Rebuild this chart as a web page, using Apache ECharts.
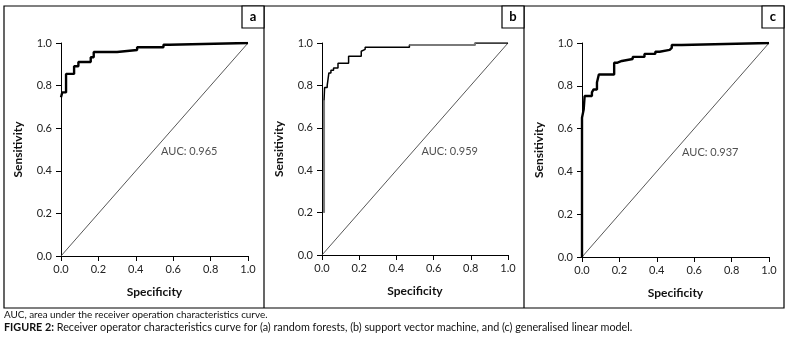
<!DOCTYPE html>
<html>
<head>
<meta charset="utf-8">
<script src="https://cdn.jsdelivr.net/npm/echarts@6/dist/echarts.min.js"></script>
<style>
  html, body { margin: 0; padding: 0; background: #fff; }
  #roc { width: 794px; height: 350px; }
</style>
</head>
<body>
<div id="roc"></div>
<script>
// ROC points (x where the curve steps up, sensitivity after the step)
var fprA = [0, 0.007, 0.027, 0.070, 0.093, 0.159, 0.175, 0.300, 0.407, 0.548, 0.580, 1.0];
var tprA = [0.745, 0.768, 0.855, 0.891, 0.911, 0.933, 0.958, 0.967, 0.980, 0.992, 1.0, 1.0];

var fprB = [0.011, 0.011, 0.014, 0.028, 0.037, 0.048, 0.062, 0.086, 0.143, 0.211, 0.220, 0.232, 0.470, 0.822, 1.0];
var tprB = [0.20, 0.73, 0.79, 0.80, 0.859, 0.872, 0.882, 0.904, 0.937, 0.961, 0.970, 0.980, 0.990, 1.0, 1.0];
var grayRangesB = [[0, 2], [12, 14]]; // slices of the b curve drawn in grey

var fprC = [0, 0, 0.009, 0.014, 0.053, 0.062, 0.080, 0.090, 0.172, 0.190, 0.213, 0.271, 0.334, 0.392, 0.415, 0.469, 0.480, 0.533, 1.0];
var tprC = [0, 0.651, 0.689, 0.752, 0.769, 0.783, 0.815, 0.853, 0.908, 0.916, 0.925, 0.935, 0.949, 0.959, 0.968, 0.977, 0.991, 1.0, 1.0];

var diagonal = [0, 1];
var aucLabels = ['AUC: 0.965', 'AUC: 0.959', 'AUC: 0.937'];
var aucPos = [0.535, 0.49];
var panelLetters = ['a', 'b', 'c'];

var FONT = 'Lato';
var dom = document.getElementById('roc');
var chart = echarts.init(dom, null, { renderer: 'canvas' });

function zip(xs, ys) {
  var out = [];
  for (var i = 0; i < xs.length; i++) out.push([xs[i], ys[i]]);
  return out;
}

var grids = [
  { left: 61, top: 43, width: 187, height: 213 },
  { left: 322, top: 43, width: 186, height: 212 },
  { left: 582, top: 43, width: 187, height: 214 }
];

var xAxes = [], yAxes = [], series = [];
grids.forEach(function (g, i) {
  xAxes.push({
    gridIndex: i, type: 'value', min: 0, max: 1, interval: 0.2,
    name: 'Specificity', nameLocation: 'middle', nameGap: 30,
    nameTextStyle: { fontFamily: FONT, fontWeight: 'bold', fontSize: 12, color: '#111' },
    axisLine: { lineStyle: { color: '#000', width: 1 } },
    axisTick: { length: 5, lineStyle: { color: '#000' } },
    axisLabel: { fontFamily: FONT, fontSize: 11, color: '#222', margin: 8,
      formatter: function (v) { return v.toFixed(1); } },
    splitLine: { show: false }
  });
  yAxes.push({
    gridIndex: i, type: 'value', min: 0, max: 1, interval: 0.2,
    name: 'Sensitivity', nameLocation: 'middle', nameGap: 37,
    nameTextStyle: { fontFamily: FONT, fontWeight: 'bold', fontSize: 12, color: '#111' },
    axisLine: { show: true, lineStyle: { color: '#000', width: 1 } },
    axisTick: { show: true, length: 5, lineStyle: { color: '#000' } },
    axisLabel: { fontFamily: FONT, fontSize: 11, color: '#222', margin: 9,
      formatter: function (v) { return v.toFixed(1); } },
    splitLine: { show: false }
  });
  series.push({
    type: 'line', xAxisIndex: i, yAxisIndex: i, symbol: 'none', silent: true,
    data: zip(diagonal, diagonal),
    lineStyle: { color: '#444', width: 0.9 }, z: 2
  });
  series.push({
    type: 'scatter', xAxisIndex: i, yAxisIndex: i, symbolSize: 0, silent: true,
    data: [aucPos],
    label: { show: true, position: [0, 0], align: 'left', verticalAlign: 'middle',
      formatter: aucLabels[i], fontFamily: FONT, fontSize: 11, color: '#222' }
  });
});

series.push({
  type: 'line', xAxisIndex: 0, yAxisIndex: 0, symbol: 'none', step: 'end',
  data: zip(fprA, tprA), lineStyle: { color: '#000', width: 2.4 }, z: 5
});
series.push({
  type: 'line', xAxisIndex: 1, yAxisIndex: 1, symbol: 'none', step: 'end',
  data: zip(fprB, tprB), lineStyle: { color: '#000', width: 1.5 }, z: 5
});
grayRangesB.forEach(function (r) {
  series.push({
    type: 'line', xAxisIndex: 1, yAxisIndex: 1, symbol: 'none', step: 'end',
    data: zip(fprB.slice(r[0], r[1]), tprB.slice(r[0], r[1])),
    lineStyle: { color: '#7a7a7a', width: 2 }, z: 6
  });
});
series.push({
  type: 'line', xAxisIndex: 2, yAxisIndex: 2, symbol: 'none', step: 'end',
  data: zip(fprC, tprC), lineStyle: { color: '#000', width: 2.4 }, z: 5
});

// frame, dividers, letter boxes, caption
var graphics = [
  { type: 'rect', shape: { x: 4, y: 6, width: 780, height: 302 },
    style: { fill: null, stroke: '#000', lineWidth: 1.2 }, silent: true },
  { type: 'line', shape: { x1: 264, y1: 6, x2: 264, y2: 308 }, style: { stroke: '#000', lineWidth: 1.2 } },
  { type: 'line', shape: { x1: 524, y1: 6, x2: 524, y2: 308 }, style: { stroke: '#000', lineWidth: 1.2 } },
  { type: 'text', left: 4, top: 310,
    style: { text: 'AUC, area under the receiver operation characteristics curve.',
      font: '9.9px ' + FONT, fill: '#111' } },
  { type: 'text', left: 4, top: 322,
    style: {
      text: '{b|FIGURE 2:} Receiver operator characteristics curve for (a) random forests, (b) support vector machine, and (c) generalised linear model.',
      font: '10.8px ' + FONT, fill: '#111',
      rich: { b: { fontFamily: FONT, fontSize: 10.8, fontWeight: 'bold', fill: '#111' } }
    } }
];
[242, 502, 762].forEach(function (x, i) {
  graphics.push({ type: 'rect', shape: { x: x, y: 6, width: 22, height: 22 },
    style: { fill: '#fff', stroke: '#000', lineWidth: 1.2 } });
  graphics.push({ type: 'text', x: x + 11, y: 17,
    style: { text: panelLetters[i], font: 'bold 13px ' + FONT, fill: '#000',
      textAlign: 'center', textVerticalAlign: 'middle' } });
});

var option = {
  animation: false,
  grid: grids,
  xAxis: xAxes,
  yAxis: yAxes,
  series: series,
  graphic: graphics
};
chart.setOption(option);
window.addEventListener('resize', chart.resize);
</script>
</body>
</html>
